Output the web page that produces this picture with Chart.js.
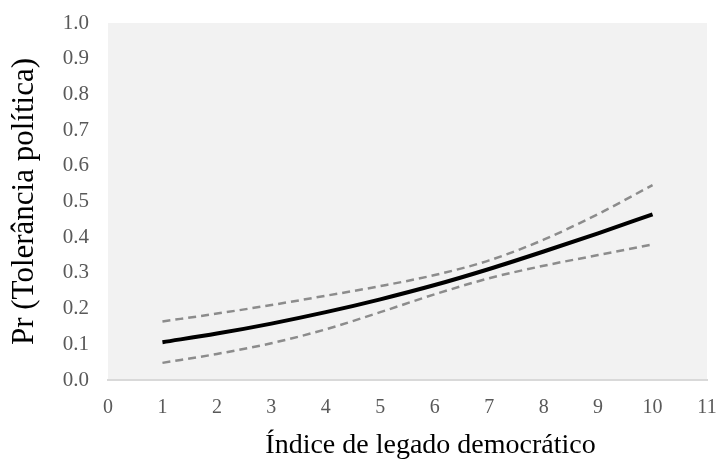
<!DOCTYPE html>
<html>
<head>
<meta charset="utf-8">
<script src="https://cdn.jsdelivr.net/npm/chart.js@4"></script>
<style>
  html, body { margin: 0; padding: 0; background: #fff; }
  #wrap { width: 717px; height: 464px; }
</style>
</head>
<body>
<div id="wrap"><canvas id="chart" width="717" height="464"></canvas></div>
<script>
// Índice de legado democrático (eixo X)
const xValues = [1, 2, 3, 4, 5, 6, 7, 8, 9, 10];
// Probabilidade prevista e intervalo de confiança
const predicted = [0.106, 0.130, 0.158, 0.190, 0.226, 0.266, 0.311, 0.360, 0.411, 0.464];
const upperCI   = [0.164, 0.186, 0.210, 0.236, 0.263, 0.294, 0.335, 0.393, 0.465, 0.546];
const lowerCI   = [0.048, 0.073, 0.103, 0.142, 0.190, 0.240, 0.285, 0.320, 0.350, 0.380];
const xTitle = 'Índice de legado democrático';
const yTitle = 'Pr (Tolerância política)';

const toPoints = arr => arr.map((v, i) => ({ x: xValues[i], y: v }));
const serif = "'Liberation Serif', 'Times New Roman', serif";

// fundo cinza da área de plotagem
const plotBg = {
    id: 'plotBg',
    beforeDraw(chart) {
        const { ctx, chartArea: a } = chart;
        ctx.save();
        ctx.fillStyle = '#f2f2f2';
        ctx.fillRect(a.left, a.top, a.right - a.left, a.bottom - a.top);
        ctx.restore();
    }
};

// título do eixo X, um pouco deslocado à direita como no original
const xTitlePlugin = {
    id: 'xTitlePlugin',
    afterDraw(chart) {
        const { ctx, chartArea: a } = chart;
        ctx.save();
        ctx.font = '28px ' + serif;
        ctx.fillStyle = '#000';
        ctx.textAlign = 'center';
        ctx.textBaseline = 'middle';
        ctx.fillText(xTitle, (a.left + a.right) / 2 + 23, 446);
        ctx.restore();
    }
};

const dashed = {
    borderColor: '#8c8c8c',
    borderWidth: 2.5,
    borderDash: [8, 5],
    pointRadius: 0,
    cubicInterpolationMode: 'monotone',
    fill: false
};

new Chart(document.getElementById('chart').getContext('2d'), {
    type: 'line',
    data: {
        datasets: [
            { ...dashed, data: toPoints(upperCI) },
            { ...dashed, data: toPoints(lowerCI) },
            {
                data: toPoints(predicted),
                borderColor: '#000',
                borderWidth: 4,
                pointRadius: 0,
                cubicInterpolationMode: 'monotone',
                fill: false
            }
        ]
    },
    options: {
        responsive: false,
        animation: false,
        layout: { padding: { top: 23, right: 10, left: 0, bottom: 0 } },
        plugins: { legend: { display: false }, tooltip: { enabled: false } },
        scales: {
            x: {
                type: 'linear',
                min: 0, max: 11,
                grid: { display: false, drawTicks: false },
                border: { color: '#d9d9d9', width: 2 },
                ticks: { stepSize: 1, color: '#595959', font: { family: serif, size: 20 }, padding: 16 },
                afterFit(s) { s.height = 84; s.paddingLeft = 0; s.paddingRight = 0; }
            },
            y: {
                min: 0, max: 1,
                grid: { display: false, drawTicks: false },
                border: { display: false },
                ticks: {
                    stepSize: 0.1, color: '#595959', font: { family: serif, size: 21 }, padding: 19,
                    callback: v => v.toFixed(1)
                },
                title: { display: true, text: yTitle, color: '#000', font: { family: serif, size: 31 }, padding: { top: 6, bottom: 0 } },
                afterFit(s) { s.width = 108; s.paddingTop = 0; s.paddingBottom = 0; }
            }
        }
    },
    plugins: [plotBg, xTitlePlugin]
});
</script>
</body>
</html>
